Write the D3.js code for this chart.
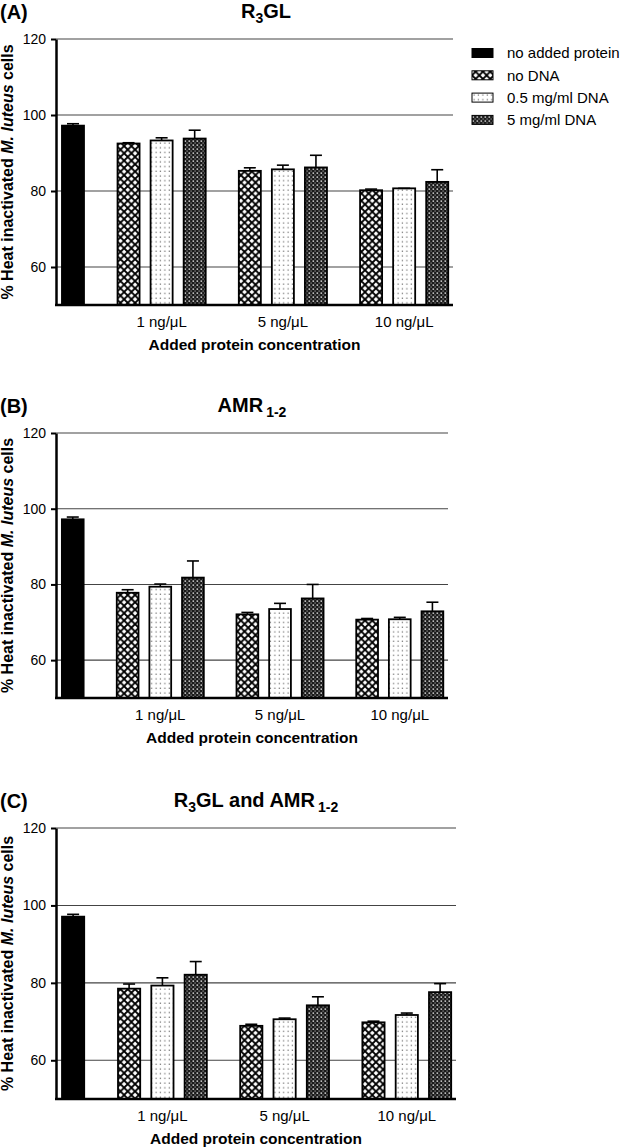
<!DOCTYPE html>
<html>
<head>
<meta charset="utf-8">
<script src="https://cdn.jsdelivr.net/npm/d3@7"></script>
<style>
body { margin: 0; background: #fff; }
svg text { font-family: "Liberation Sans", Arial, sans-serif; }
</style>
</head>
<body>
<div id="chart"></div>
<script>
var concs = ["1 ng/μL", "5 ng/μL", "10 ng/μL"]
var series = ["no DNA", "0.5 mg/ml DNA", "5 mg/ml DNA"]
var controlLabel = "no added protein"
var yTicks = [60, 80, 100, 120]

// rows = concentration, columns = series
var controlA = 97.2, controlErrA = 0.5
var meansA = [[92.5, 93.3, 93.8], [85.3, 85.7, 86.2], [80.2, 80.7, 82.4]]
var errsA  = [[0.2, 0.7, 2.2], [0.8, 1.1, 3.2], [0.3, 0, 3.2]]

var controlB = 97.2, controlErrB = 0.6
var meansB = [[77.8, 79.4, 81.8], [72.1, 73.5, 76.3], [70.7, 70.8, 72.9]]
var errsB  = [[0.8, 0.7, 4.4], [0.5, 1.5, 3.7], [0.3, 0.5, 2.4]]

var controlC = 97.1, controlErrC = 0.6
var meansC = [[78.5, 79.3, 82.1], [68.9, 70.6, 74.2], [69.8, 71.7, 77.6]]
var errsC  = [[1.2, 2.0, 3.4], [0.4, 0.3, 2.2], [0.3, 0.5, 2.2]]

var panels = [
  { label: "(A)", title: [["R"], ["3", 1], ["GL"]], top: 39, bottom: 305, right: 453, titleX: 266,
    legend: true, control: controlA, controlErr: controlErrA, means: meansA, errs: errsA },
  { label: "(B)", title: [["AMR"], ["1-2", 1, 3]], top: 433, bottom: 698, right: 448, titleX: 252,
    legend: false, control: controlB, controlErr: controlErrB, means: meansB, errs: errsB },
  { label: "(C)", title: [["R"], ["3", 1], ["GL and AMR"], ["1-2", 1, 3]], top: 828, bottom: 1099, right: 456, titleX: 256,
    legend: false, control: controlC, controlErr: controlErrC, means: meansC, errs: errsC }
]

var W = 625, H = 1147, left = 56
var fills = ["url(#xhatch)", "url(#dots)", "url(#dense)"]

var svg = d3.select("#chart").append("svg")
    .attr("width", W)
    .attr("height", H)

var defs = svg.append("defs")

var xh = defs.append("pattern").attr("id", "xhatch")
    .attr("patternUnits", "userSpaceOnUse").attr("width", 7.3).attr("height", 7.3)
xh.append("rect").attr("width", 7.3).attr("height", 7.3).attr("fill", "#fff")
xh.append("path").attr("d", "M-1,-1L8.3,8.3M8.3,-1L-1,8.3")
    .attr("stroke", "#000").attr("stroke-width", 1.8)

var dt = defs.append("pattern").attr("id", "dots")
    .attr("patternUnits", "userSpaceOnUse").attr("width", 4.4).attr("height", 4.7)
dt.append("rect").attr("width", 4.4).attr("height", 4.7).attr("fill", "#fff")
dt.append("rect").attr("x", 1.5).attr("y", 1.5).attr("width", 1.2).attr("height", 1.2).attr("fill", "#666")

var dn = defs.append("pattern").attr("id", "dense")
    .attr("patternUnits", "userSpaceOnUse").attr("width", 4).attr("height", 4)
dn.append("rect").attr("width", 4).attr("height", 4).attr("fill", "#1a1a1a")
dn.append("rect").attr("x", 0.5).attr("y", 0.5).attr("width", 1.6).attr("height", 1.2).attr("fill", "#fff")
dn.append("rect").attr("x", 2.5).attr("y", 2.5).attr("width", 1.2).attr("height", 1.1).attr("fill", "#aaa")

panels.forEach(function(p) {
  var w = p.right - left
  var g = svg.append("g")

  var y = d3.scaleLinear().domain([50, 120]).range([p.bottom, p.top])
  var x0 = d3.scaleBand().domain(concs)
      .range([left + 0.155*w, left + 0.988*w])
      .paddingInner(0.273)
  var x1 = d3.scaleBand().domain(series)
      .range([0, x0.bandwidth()])
      .paddingInner(1/3)
  var bw = x1.bandwidth()

  // gridlines
  g.selectAll("line.grid")
      .data(yTicks)
    .enter().append("line")
      .attr("class", "grid")
      .attr("x1", left).attr("x2", p.right)
      .attr("y1", function(d) { return y(d) })
      .attr("y2", function(d) { return y(d) })
      .style("stroke", "#444")
      .style("stroke-width", 1.1)

  var bars = []
  concs.forEach(function(c, i) {
    series.forEach(function(s, j) {
      bars.push({ conc: c, series: s, idx: j, mean: p.means[i][j], err: p.errs[i][j],
                  x: x0(c) + x1(s) })
    })
  })
  bars.unshift({ conc: "none", series: controlLabel, idx: -1, mean: p.control, err: p.controlErr,
                 x: left + 0.015*w })

  g.selectAll("rect.bar")
      .data(bars)
    .enter().append("rect")
      .attr("class", "bar")
      .attr("x", function(d) { return d.x })
      .attr("y", function(d) { return y(d.mean) })
      .attr("width", bw)
      .attr("height", function(d) { return y(50) - y(d.mean) })
      .style("fill", function(d) { return d.idx < 0 ? "#000" : fills[d.idx] })
      .style("stroke", "#000")
      .style("stroke-width", 1.8)

  g.selectAll("line.err")
      .data(bars)
    .enter().append("line")
      .attr("class", "err")
      .attr("x1", function(d) { return d.x + bw/2 })
      .attr("x2", function(d) { return d.x + bw/2 })
      .attr("y1", function(d) { return y(d.mean) })
      .attr("y2", function(d) { return y(d.mean + d.err) })
      .style("stroke", "#000")
      .style("stroke-width", 1.6)

  g.selectAll("line.cap")
      .data(bars)
    .enter().append("line")
      .attr("class", "cap")
      .attr("x1", function(d) { return d.x + bw/2 - 6 })
      .attr("x2", function(d) { return d.x + bw/2 + 6 })
      .attr("y1", function(d) { return y(d.mean + d.err) })
      .attr("y2", function(d) { return y(d.mean + d.err) })
      .style("stroke", "#000")
      .style("stroke-width", 1.6)

  // axes
  var yAxis = g.append("g")
      .attr("transform", "translate(" + left + ",0)")
      .call(d3.axisLeft(y).tickValues(yTicks).tickSize(5).tickPadding(5).tickSizeOuter(0))
  yAxis.select(".domain").style("stroke-width", 2.5)
  yAxis.selectAll(".tick line").style("stroke-width", 2)
  yAxis.selectAll("text").style("font-size", "14px").style("fill", "#000")

  var xAxis = g.append("g")
      .attr("transform", "translate(0," + p.bottom + ")")
      .call(d3.axisBottom(x0).tickSize(0).tickPadding(11))
  xAxis.select(".domain").remove()
  xAxis.selectAll("text").style("font-size", "15px").style("fill", "#000")

  g.append("line")
      .attr("x1", left - 1).attr("x2", p.right)
      .attr("y1", p.bottom).attr("y2", p.bottom)
      .style("stroke", "#000")
      .style("stroke-width", 2.5)

  g.append("text")
      .attr("x", (left + p.right)/2)
      .attr("y", p.bottom + 45)
      .attr("text-anchor", "middle")
      .style("font-size", "15.5px")
      .style("font-weight", "bold")
      .text("Added protein concentration")

  var yl = g.append("text")
      .attr("transform", "translate(13," + (p.top + p.bottom)/2 + ") rotate(-90)")
      .attr("text-anchor", "middle")
      .style("font-size", "16px")
      .style("font-weight", "bold")
  yl.append("tspan").text("% Heat inactivated ")
  yl.append("tspan").style("font-style", "italic").text("M. luteus")
  yl.append("tspan").text(" cells")

  // panel label and title
  g.append("text")
      .attr("x", 0)
      .attr("y", p.top - 20)
      .style("font-size", "20px")
      .style("font-weight", "bold")
      .text(p.label)

  var t = g.append("text")
      .attr("x", p.titleX)
      .attr("y", p.top - 21)
      .attr("text-anchor", "middle")
      .style("font-size", "20px")
      .style("font-weight", "bold")
  var shifted = false
  p.title.forEach(function(part) {
    var ts = t.append("tspan").text(part[0])
    if (part[1]) {
      ts.attr("dy", 5).style("font-size", "14px")
      if (part[2]) ts.attr("dx", part[2])
      shifted = true
    } else if (shifted) {
      ts.attr("dy", -5)
      shifted = false
    }
  })

  if (p.legend) {
    var items = [controlLabel].concat(series)
    var lg = g.selectAll("g.legend")
        .data(items)
      .enter().append("g")
        .attr("class", "legend")
        .attr("transform", function(d, i) { return "translate(472," + (53 + i*22.3) + ")" })
    lg.append("rect")
        .attr("x", 0).attr("y", -4.5)
        .attr("width", 21).attr("height", 9)
        .style("fill", function(d, i) { return i == 0 ? "#000" : fills[i-1] })
        .style("stroke", "#000")
        .style("stroke-width", 1)
    lg.append("text")
        .attr("x", 35)
        .attr("dy", "0.35em")
        .style("font-size", "15px")
        .text(function(d) { return d })
  }
})
</script>
</body>
</html>
